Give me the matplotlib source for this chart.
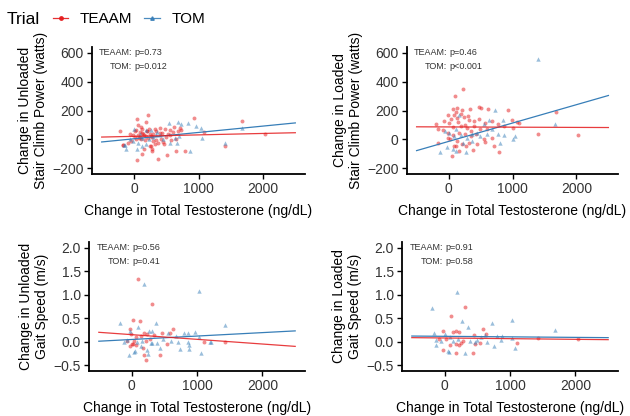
import matplotlib
matplotlib.use("Agg")
import matplotlib.pyplot as plt
from matplotlib.lines import Line2D
import numpy as np

plt.rcParams['font.family'] = ['Liberation Sans', 'DejaVu Sans']

RED = "#E41A1C"
BLUE = "#377EB8"

# ---------------- data ----------------
# Panel 1: Unloaded stair climb power
p1_teaam_x = [-211, 52, 223, 181, 62, 114, 36, -67, -15, 88, 140, 192, 243, 321, 398, 476, 527, 605, 682, 734,
              708, 930, 286, 348, 425, 502, 580, 657, 296, 373, 450, -170, -92, -41, 36, 114, 166, 217, 269, 286,
              129, 46, 373, 517, 647, 786, 243, 321, 10, 62, 98, 150, 201, 233, 348, 440, 553, 1680, 1411, 2036,
              1091, 160, 284, -165, 20, 130, 260, 410, 560, 120, 200, 80, 300, 470, 620]
p1_teaam_y = [55, 142, 167, 121, 101, 89, 66, 37, 32, 48, 37, 25, 37, 71, 42, 71, 37, 48, 55, 64,
              82, 149, 14, -4, 3, 14, -4, 3, -11, -23, -18, -41, -23, -11, 0, 5, -4, 11, -46, -69,
              -103, -142, -133, -110, -80, -80, -46, -34, 18, 27, 18, 27, 55, 71, 55, 43, 62, 130, -46, 34,
              53, -66, -80, -39, 60, 45, 20, 80, 30, 75, 60, 10, 40, -30, 85]
p1_tom_x = [0, 181, 259, 362, 543, 688, 724, 843, 967, -145, -119, 52, 124, 192, 62, -15, -67, 129, 295, 450,
            631, 698, 863, 233, 348, 553, 667, 1670, 1417, 1034, 1054, -155, 100, 400]
p1_tom_y = [74, 64, 62, 53, 114, 119, 103, 114, 91, -41, -69, -64, -46, -34, -23, -11, 0, 11, 18, 5,
            11, 23, -80, 5, 27, -23, -27, 82, -27, 82, 11, -39, 40, 30]

# Panel 2: Loaded stair climb power
p2_teaam_x = [231, 103, -195, -169, 46, 113, 380, 703, 790, 923, 1098, 985, 1404, 2024, 1676,
              62, 138, 215, 328, 472, 513, 616, -15, 87, 190, 138, 241, 318, 395, 472, 575, 677, 780, 872,
              -67, 10, 62, 190, 292, 405, 498, 600, -169, -92, -15, 62, 164, 256, 344, 436, 549, 677,
              26, 138, 215, 318, 446, 575, -15, 87, 277, 164, 1077, 1000, 150, 250, 350, 40, 120, 300]
p2_teaam_y = [347, 302, 107, -23, -114, -46, -75, -46, -87, 206, 110, 133, 39, 32, 190,
              210, 217, 206, 213, 224, 217, 210, 171, 171, 176, 149, 155, 137, 126, 142, 114, 126, 103, 91,
              126, 110, 85, 96, 80, 91, 69, 73, 69, 62, 46, 27, 46, 34, 23, 34, 5, 11,
              0, -11, -34, -23, -30, -18, 7, -46, -46, -80, 119, 80, 120, 100, 60, 140, 190, 160]
p2_tom_x = [-128, -26, 62, 123, 267, -56, 10, 87, 190, 292, 370, 446, 549, 728, 626, 857, 687, 780, 867, 1000,
            1046, 600, 164, 123, 231, 370, 806, 498, 1404, 1661]
p2_tom_y = [-91, -53, -64, -80, -87, 57, 46, 23, 27, 11, 34, 46, 103, 206, 137, 137, 73, 34, 27, 0,
            23, 34, 171, 69, -27, -11, -23, 23, 560, 103]

# Panel 3: Unloaded gait speed
p3_teaam_x = [103, 319, 21, 129, -26, 190, 242, 345, 463, 592, 638, -15, 62, 36, -67, 10, -26, 26, 72, 226,
              540, 180, 190, 226, 437, 1106, 1424, 150, 280]
p3_teaam_y = [1.34, 0.81, 0.47, 0.44, 0.27, 0.19, 0.16, 0.15, 0.18, 0.18, 0.27, 0.16, 0.10, 0.01, 0.01, -0.06, -0.09, -0.04, -0.07, 0.01,
              -0.06, -0.14, -0.29, -0.38, -0.28, 0.0, 0.0, 0.12, 0.05]
p3_tom_x = [196, 1029, -180, 366, 98, -26, 268, 305, 551, 797, 869, 972, 680, 1023, 1209, -118, -67, 88, 165, 319,
            385, 473, 601, 714, 869, 884, 874, 745, 1060, 442, 236, 293, 57, 31, -41, 252, 144, 1434, 1192]
p3_tom_y = [1.23, 1.07, 0.39, 0.39, 0.32, 0.23, 0.22, 0.22, 0.18, 0.19, 0.19, 0.20, 0.12, 0.09, 0.0, 0.0, 0.04, 0.0, 0.02, -0.02,
            -0.03, 0.05, 0.02, -0.01, -0.01, -0.07, -0.16, -0.15, -0.24, -0.13, -0.17, -0.03, -0.20, -0.23, -0.28, -0.27, -0.09, 0.35, 0.0]

# Panel 4: Loaded gait speed
p4_teaam_x = [320, 93, -16, 129, 181, 222, 594, 636, 450, -78, 26, 284, 465, 543, 181, 222, 78, -26, 181, 440,
              1111, 259, 1431, 2041]
p4_teaam_y = [0.75, 0.55, 0.22, 0.20, 0.22, 0.20, 0.27, 0.17, 0.15, 0.05, 0.05, 0.02, -0.05, -0.02, -0.06, -0.07, -0.07, -0.17, -0.24, -0.24,
              -0.02, -0.03, 0.07, 0.05]
p4_tom_x = [196, -191, 264, 357, 732, 1023, -166, 0, -129, -52, -129, 52, 67, 310, 129, 207, 388, 465, 553, 646,
            749, 801, 863, 878, 1033, 1069, 78, 491, 620, 1694]
p4_tom_y = [1.05, 0.72, 0.45, 0.31, 0.40, 0.46, 0.18, 0.16, 0.03, 0.02, -0.07, -0.20, -0.21, -0.25, 0.02, 0.05, 0.02, 0.0, 0.10, 0.0,
            -0.09, 0.12, 0.04, 0.13, 0.07, -0.14, 0.11, 0.03, 0.15, 0.25]

# fitted line ends (y at x=-500 and x=2500)
line_x = [-500, 2500]
p1_teaam_line = [16, 46]
p1_tom_line = [-18, 114]
p2_teaam_line = [87, 82]
p2_tom_line = [-78, 304]
p3_teaam_line = [0.20, -0.10]
p3_tom_line = [0.01, 0.23]
p4_teaam_line = [0.086, 0.043]
p4_tom_line = [0.12, 0.086]

p_teaam = ["p=0.73", "p=0.46", "p=0.56", "p=0.91"]
p_tom = ["p=0.012", "p<0.001", "p=0.41", "p=0.58"]

ylabels = ["Change in Unloaded\nStair Climb Power (watts)",
           "Change in Loaded\nStair Climb Power (watts)",
           "Change in Unloaded\nGait Speed (m/s)",
           "Change in Loaded\nGait Speed (m/s)"]
xlabel = "Change in Total Testosterone (ng/dL)"
xticks = [0, 1000, 2000]
yticks_power = [-200, 0, 200, 400, 600]
yticks_gait = [-0.5, 0.0, 0.5, 1.0, 1.5, 2.0]

# ---------------- figure ----------------
W, H = 630, 416
fig = plt.figure(figsize=(W / 100, H / 100), dpi=100)

def px_axes(l, r, t, b):
    return fig.add_axes([l / W, (H - b) / H, (r - l) / W, (b - t) / H])

boxes = [(92, 305, 47, 174), (407, 618, 47, 174), (89, 305, 242, 371), (402, 618, 242, 371)]
panels = [
    (p1_teaam_x, p1_teaam_y, p1_tom_x, p1_tom_y, p1_teaam_line, p1_tom_line, yticks_power, (-240, 640), "%d"),
    (p2_teaam_x, p2_teaam_y, p2_tom_x, p2_tom_y, p2_teaam_line, p2_tom_line, yticks_power, (-240, 640), "%d"),
    (p3_teaam_x, p3_teaam_y, p3_tom_x, p3_tom_y, p3_teaam_line, p3_tom_line, yticks_gait, (-0.625, 2.125), "%.1f"),
    (p4_teaam_x, p4_teaam_y, p4_tom_x, p4_tom_y, p4_teaam_line, p4_tom_line, yticks_gait, (-0.625, 2.125), "%.1f"),
]

for i, (box, pan) in enumerate(zip(boxes, panels)):
    tx, ty, ox, oy, tl, ol, yt, ylim, fmt = pan
    ax = px_axes(*box)
    ax.scatter(tx, ty, s=8, marker="o", color=RED, alpha=0.5, linewidths=0, zorder=2)
    ax.scatter(ox, oy, s=10, marker="^", color=BLUE, alpha=0.5, linewidths=0, zorder=2)
    ax.plot(line_x, ol, color=BLUE, lw=0.9, zorder=3)
    ax.plot(line_x, tl, color=RED, lw=0.9, zorder=3, alpha=0.85)
    ax.set_xlim(-650, 2650)
    ax.set_ylim(*ylim)
    ax.set_xticks(xticks)
    ax.set_yticks(yt)
    ax.set_yticklabels([fmt % v if v >= 0 else "\u2212" + fmt % abs(v) for v in yt])
    for s in ["top", "right"]:
        ax.spines[s].set_visible(False)
    for s in ["left", "bottom"]:
        ax.spines[s].set_linewidth(1.3)
    ax.tick_params(axis="both", length=3.5, width=1.0, labelsize=10, colors="black",
                   labelcolor="#333333", pad=2.5)
    ax.set_xlabel(xlabel, fontsize=10, labelpad=5.5)
    ax.set_ylabel(ylabels[i], fontsize=10, labelpad=3, linespacing=1.15)
    # p-value annotations
    ax.text(0.19, 0.96, "TEAAM:", transform=ax.transAxes, ha="right", va="center",
            fontsize=6.5, color="#333333")
    ax.text(0.2, 0.96, p_teaam[i], transform=ax.transAxes, ha="left", va="center",
            fontsize=6.5, color="#333333")
    ax.text(0.19, 0.845, "TOM:", transform=ax.transAxes, ha="right", va="center",
            fontsize=6.5, color="#333333")
    ax.text(0.2, 0.845, p_tom[i], transform=ax.transAxes, ha="left", va="center",
            fontsize=6.5, color="#333333")

# legend
fig.text(7 / W, 1 - 19 / H, "Trial", fontsize=12.5, va="center", ha="left")
handles = [Line2D([], [], color=RED, lw=0.9, marker="o", markersize=2.5, alpha=0.9),
           Line2D([], [], color=BLUE, lw=0.9, marker="^", markersize=2.5, alpha=0.9)]
fig.legend(handles, ["TEAAM", "TOM"], loc="center left", bbox_to_anchor=(53 / W, 1 - 19 / H),
           ncol=2, frameon=False, fontsize=11, handlelength=1.0, handletextpad=0.75,
           columnspacing=0.8, borderpad=0, borderaxespad=0)

fig.savefig("out.png", dpi=100)
